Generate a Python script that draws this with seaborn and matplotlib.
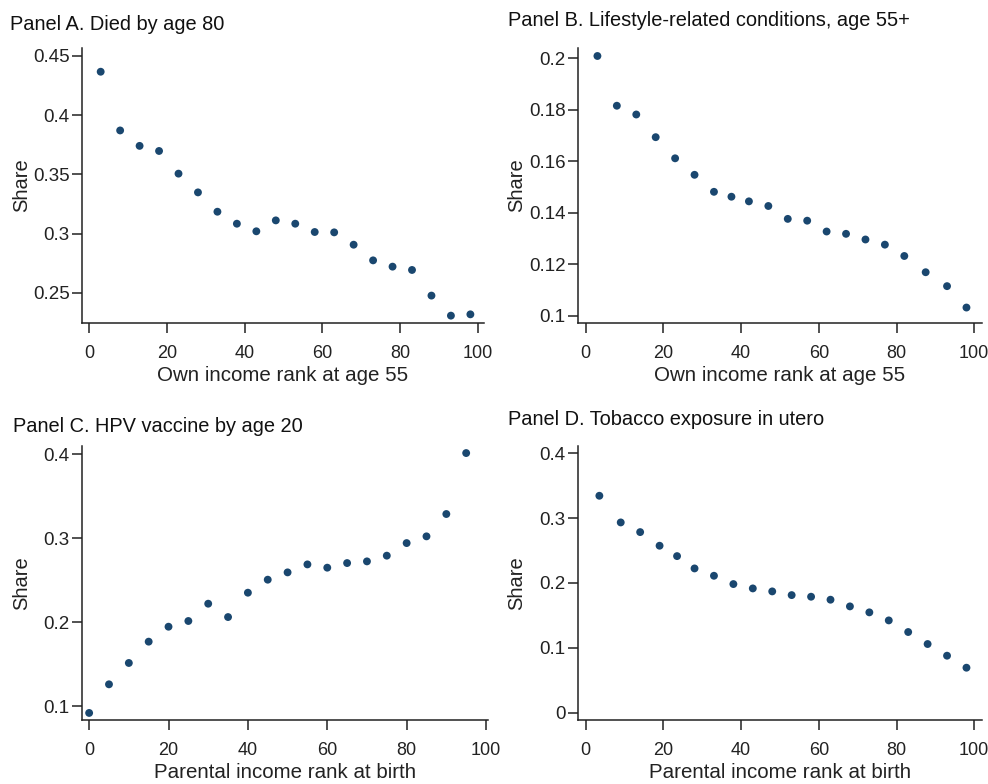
import matplotlib
matplotlib.use("Agg")
import matplotlib.pyplot as plt
import seaborn as sns
import pandas as pd

# Panel A. Died by age 80
a_rank = [3, 8, 13, 18, 23, 28, 33, 38, 43, 48, 53, 58, 63, 68, 73, 78, 83, 88, 93, 98]
a_share = [0.4365, 0.387, 0.374, 0.3697, 0.3506, 0.3348, 0.3185, 0.3084, 0.302, 0.3112,
           0.3084, 0.3014, 0.3011, 0.2907, 0.2775, 0.2722, 0.2694, 0.2478, 0.2309, 0.232]

# Panel B. Lifestyle-related conditions, age 55+
b_rank = [3, 8, 13, 18, 23, 28, 33, 37.5, 42, 47, 52, 57, 62, 67, 72, 77, 82, 87.5, 93, 98]
b_share = [0.2008, 0.1815, 0.1781, 0.1693, 0.1611, 0.1547, 0.1481, 0.1462, 0.1444, 0.1426,
           0.1376, 0.1369, 0.1327, 0.1318, 0.1296, 0.1276, 0.1232, 0.1169, 0.1115, 0.1032]

# Panel C. HPV vaccine by age 20
c_rank = [0, 5, 10, 15, 20, 25, 30, 35, 40, 45, 50, 55, 60, 65, 70, 75, 80, 85, 90, 95]
c_share = [0.0921, 0.1262, 0.1516, 0.177, 0.1948, 0.2016, 0.2222, 0.2063, 0.2353, 0.2508,
           0.2595, 0.269, 0.2651, 0.2706, 0.2726, 0.2794, 0.2944, 0.3024, 0.329, 0.4016]

# Panel D. Tobacco exposure in utero
d_rank = [3.5, 9, 14, 19, 23.5, 28, 33, 38, 43, 48, 53, 58, 63, 68, 73, 78, 83, 88, 93, 98]
d_share = [0.3343, 0.2932, 0.2783, 0.2573, 0.2413, 0.2223, 0.211, 0.1982, 0.1915, 0.1869,
           0.1812, 0.1787, 0.1741, 0.1638, 0.1546, 0.1422, 0.1243, 0.1058, 0.0878, 0.0693]

titles = ["Panel A. Died by age 80", "Panel B. Lifestyle-related conditions, age 55+",
          "Panel C. HPV vaccine by age 20", "Panel D. Tobacco exposure in utero"]
xlabels = ["Own income rank at age 55", "Own income rank at age 55",
           "Parental income rank at birth", "Parental income rank at birth"]
yticks = [[0.25, 0.3, 0.35, 0.4, 0.45], [0.1, 0.12, 0.14, 0.16, 0.18, 0.2],
          [0.1, 0.2, 0.3, 0.4], [0, 0.1, 0.2, 0.3, 0.4]]
ytick_labels = [["0.25", "0.3", "0.35", "0.4", "0.45"],
                ["0.1", "0.12", "0.14", "0.16", "0.18", "0.2"],
                ["0.1", "0.2", "0.3", "0.4"], ["0", "0.1", "0.2", "0.3", "0.4"]]
xticks = [0, 20, 40, 60, 80, 100]

sns.set_style("ticks")
plt.rcParams['font.family'] = ['Liberation Sans', 'DejaVu Sans']

W, H = 988, 784
fig = plt.figure(figsize=(W / 100, H / 100), dpi=100)

# axes boxes in pixels: left, top, right, bottom ; plus data limits
boxes = [(82, 48, 484, 323), (578, 48, 982, 323), (82, 446, 488, 720), (578, 446, 982, 720)]
xlims = [(-1.8, 101.5), (-2.0, 102.0), (-1.8, 100.5), (-2.0, 102.0)]
ylims = [(0.2247, 0.4565), (0.0972, 0.2039), (0.0837, 0.41), (-0.0113, 0.411)]
title_pos = [(10, 24), (508, 21), (13, 426), (508, 419)]
ylabel_x = [31, 526, 31, 526]

data = [(a_rank, a_share), (b_rank, b_share), (c_rank, c_share), (d_rank, d_share)]
navy = "#1a476f"

for i, (xs, ys) in enumerate(data):
    l, t, r, b = boxes[i]
    ax = fig.add_axes([l / W, 1 - b / H, (r - l) / W, (b - t) / H])
    df = pd.DataFrame({"rank": xs, "share": ys})
    sns.scatterplot(data=df, x="rank", y="share", ax=ax, color=navy, s=32,
                    edgecolor="none", linewidth=0)
    ax.set_xlim(*xlims[i])
    ax.set_ylim(*ylims[i])
    ax.set_xticks(xticks)
    ax.set_yticks(yticks[i])
    ax.set_yticklabels(ytick_labels[i])
    ax.set_xlabel(xlabels[i], fontsize=14.8, labelpad=3, color="#222222")
    ax.set_ylabel("Share", fontsize=14.5, color="#222222")
    ax.yaxis.set_label_coords((ylabel_x[i] - l) / (r - l), 0.5)
    ax.tick_params(axis="x", length=7, width=1.1, pad=9, labelsize=13, colors="#222222")
    ax.tick_params(axis="y", length=7, width=1.1, pad=2, labelsize=13.5, colors="#222222")
    sns.despine(ax=ax)
    for sp in ["left", "bottom"]:
        ax.spines[sp].set_linewidth(1.1)
        ax.spines[sp].set_color("#222222")
    tx, ty = title_pos[i]
    fig.text(tx / W, 1 - ty / H, titles[i], fontsize=14.4, va="center", ha="left",
             color="#111111")

fig.savefig("out.png", dpi=100)
